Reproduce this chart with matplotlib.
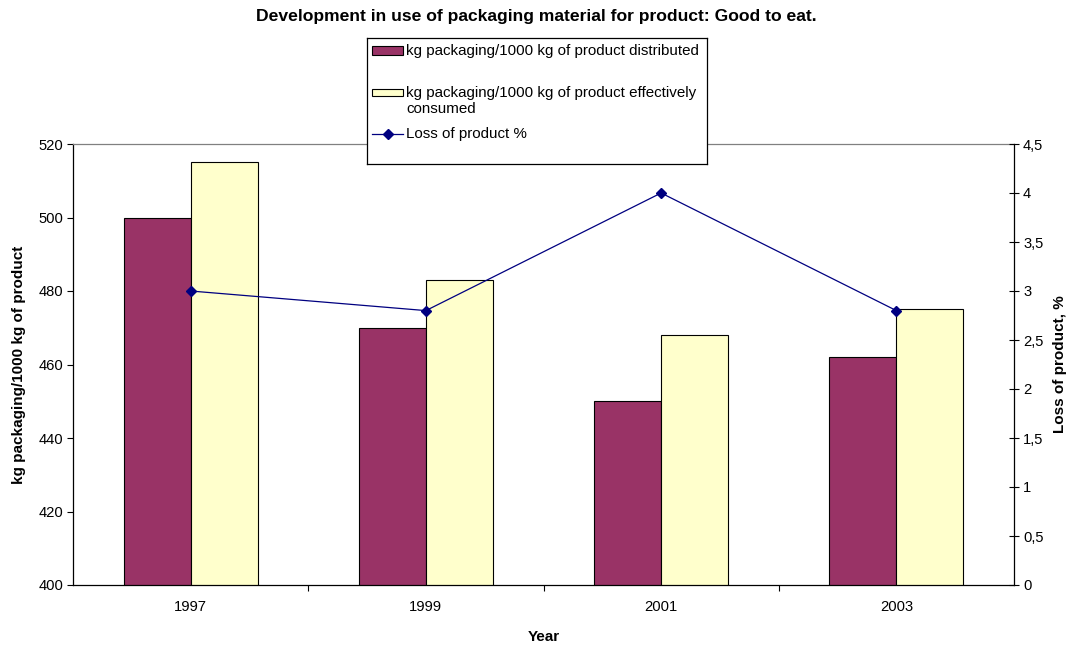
import matplotlib
import matplotlib.pyplot as plt
import numpy as np
from matplotlib.lines import Line2D
from matplotlib.patches import Rectangle
from matplotlib.ticker import FuncFormatter

matplotlib.use("Agg")

plt.rcParams["font.family"] = ["Liberation Sans", "DejaVu Sans"]

years = ["1997", "1999", "2001", "2003"]
kg_distributed = [500, 470, 450, 462]
kg_consumed = [515, 483, 468, 475]
loss_pct = [3.0, 2.8, 4.0, 2.8]

label_distributed = "kg packaging/1000 kg of product distributed"
label_consumed = "kg packaging/1000 kg of product effectively\nconsumed"
label_loss = "Loss of product %"

maroon = "#993366"
cream = "#FFFFCC"
navy = "#000080"

W, H = 1072, 646
fig = plt.figure(figsize=(W / 100, H / 100), dpi=100)
ax = fig.add_axes([73 / W, 1 - 585 / H, 941 / W, 441 / H])

x = np.arange(len(years))
bw = 0.285
ax.bar(x - bw / 2, kg_distributed, bw, color=maroon, edgecolor="black", linewidth=0.8, zorder=2)
ax.bar(x + bw / 2, kg_consumed, bw, color=cream, edgecolor="black", linewidth=0.8, zorder=2)

ax.set_xlim(-0.5, len(years) - 0.5)
ax.set_ylim(400, 520)
ax.set_yticks(np.arange(400, 521, 20))
ax.set_xticks(x)
ax.set_xticklabels(years)
ax.set_xticks(np.arange(0.5, len(years) - 1, 1), minor=True)
ax.tick_params(axis="x", which="major", length=0, pad=11, labelsize=10.6)
ax.tick_params(axis="x", which="minor", length=4, width=0.8, direction="out", color="black")
ax.tick_params(axis="y", length=4, width=0.8, direction="out", pad=3, labelsize=10.6)

for side in ("left", "bottom"):
    ax.spines[side].set_color("black")
    ax.spines[side].set_linewidth(0.9)
ax.spines["top"].set_color("#808080")
ax.spines["top"].set_linewidth(0.9)
ax.spines["right"].set_visible(False)

ax.set_xlabel("Year", fontweight="bold", fontsize=11, labelpad=11)
ax.set_ylabel("kg packaging/1000 kg of product", fontweight="bold", fontsize=11, labelpad=9)

# secondary axis for the loss percentage
ax2 = ax.twinx()
ax2.plot(x, loss_pct, color=navy, linewidth=0.9, marker="D", markersize=5,
         markerfacecolor=navy, markeredgecolor=navy, zorder=3)
ax2.set_ylim(0, 4.5)
ax2.set_yticks(np.arange(0, 4.51, 0.5))
ax2.yaxis.set_major_formatter(FuncFormatter(
    lambda v, p: ("%g" % v).replace(".", ",")))
ax2.tick_params(axis="y", length=7, width=0.8, direction="inout", pad=3, labelsize=10.6)
ax2.spines["right"].set_color("black")
ax2.spines["right"].set_linewidth(0.9)
for side in ("left", "top", "bottom"):
    ax2.spines[side].set_visible(False)
ax2.set_ylabel("Loss of product, %", fontweight="bold", fontsize=11, labelpad=7)

fig.text(0.5, 1 - 17 / H,
         "Development in use of packaging material for product: Good to eat.",
         ha="center", va="center", fontweight="bold", fontsize=12.6)

# legend box drawn in its own pixel-scaled axes
lg = fig.add_axes([367 / W, 1 - 164 / H, 340 / W, 126 / H], zorder=5)
lg.set_xlim(0, 340)
lg.set_ylim(126, 0)
lg.set_xticks([])
lg.set_yticks([])
for s in lg.spines.values():
    s.set_color("black")
    s.set_linewidth(0.9)
lg.add_patch(Rectangle((5, 8), 31, 9, facecolor=maroon, edgecolor="black", linewidth=0.8))
lg.text(39, 13, label_distributed, va="center", fontsize=10.9)
lg.add_patch(Rectangle((5, 51), 31, 7, facecolor=cream, edgecolor="black", linewidth=0.8))
lg.text(39, 63, label_consumed, va="center", fontsize=10.9, linespacing=1.15)
lg.add_line(Line2D([5, 36], [96, 96], color=navy, linewidth=0.9))
lg.add_line(Line2D([20.5], [96], color=navy, marker="D", markersize=5))
lg.text(39, 96, label_loss, va="center", fontsize=10.9)

fig.savefig("out.png", dpi=100)
